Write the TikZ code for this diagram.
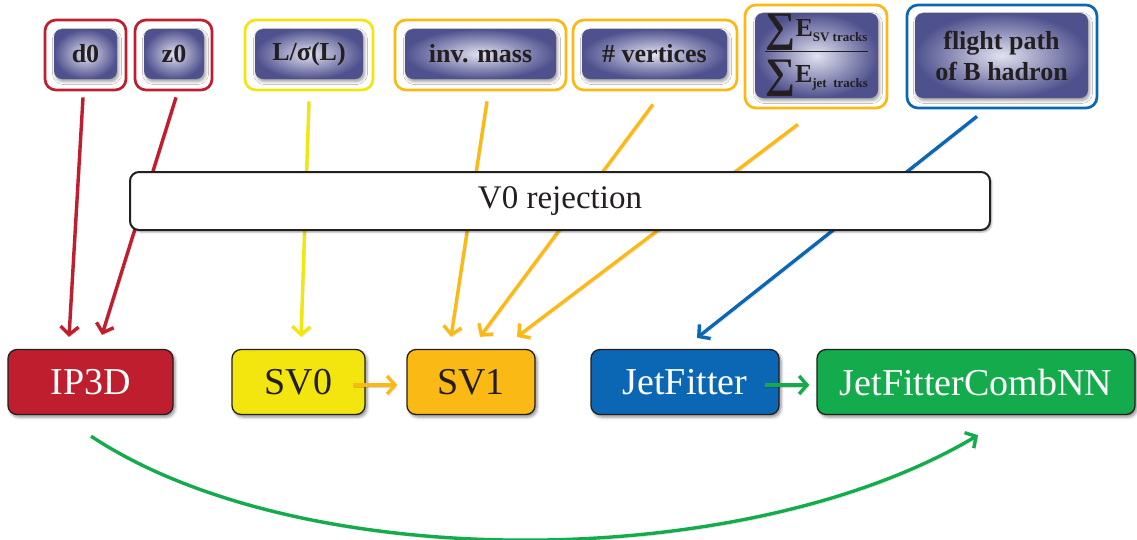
\documentclass[tikz,border=0pt]{standalone}
\usepackage{fontspec}
\setmainfont{Liberation Serif}
\usetikzlibrary{arrows.meta,calc,shadows.blur}

\definecolor{cred}{HTML}{BE1E2D}
\definecolor{cyellow}{HTML}{F2E60E}
\definecolor{corange}{HTML}{FBB916}
\definecolor{cblue}{HTML}{0B67B3}
\definecolor{cgreen}{HTML}{13AB4B}
\definecolor{ink}{HTML}{231F20}
\definecolor{varin}{HTML}{E2E2F0}
\definecolor{varout}{HTML}{4F518E}

\newcommand\sumE[1]{\raisebox{-5pt}{\fontsize{42}{42}\selectfont ∑}E\raisebox{-5pt}{\fontsize{13}{13}\selectfont #1}}

\tikzset{
  frame/.style={draw=#1, line width=2.7pt, rounded corners=11pt, fill=white, inner sep=0pt},
  var/.style={rounded corners=8pt, inner sep=0pt, inner color=varin, outer color=varout,
    blur shadow={shadow xshift=1.5pt, shadow yshift=-2.5pt, shadow blur radius=3pt, shadow opacity=40},
    font=\fontsize{26}{31}\selectfont\bfseries, text=ink, align=center},
  algo/.style={rounded corners=9pt, draw=ink, line width=1.3pt, fill=#1, inner sep=0pt,
    minimum height=65pt, font=\fontsize{38}{40}\selectfont,
    blur shadow={shadow xshift=2pt, shadow yshift=-2.5pt, shadow blur radius=3pt, shadow opacity=45}},
  feed/.style={draw=#1, line width=3.4pt, -{Straight Barb[length=8pt,width=18pt]},
    preaction={draw=black, opacity=0.15, transform canvas={shift={(1.5pt,-2pt)}}}},
}

\begin{document}
\begin{tikzpicture}[x=1pt,y=-1pt]
\useasboundingbox (0,0) rectangle (1137,539);

% input variables: outlined groups with shaded labels
\node[frame=cred,    minimum width=81pt,  minimum height=70pt]  (d0o)  at (85.5,55)  {};
\node[frame=cred,    minimum width=77pt,  minimum height=70pt]  (z0o)  at (173.5,55) {};
\node[frame=cyellow, minimum width=128pt, minimum height=70pt]  (lso)  at (309,55)   {};
\node[frame=corange, minimum width=171pt, minimum height=70pt]  (imo)  at (480.5,55) {};
\node[frame=corange, minimum width=164pt, minimum height=70pt]  (nvo)  at (655,55)   {};
\node[frame=corange, minimum width=142pt, minimum height=103pt] (esio) at (816,56.5) {};
\node[frame=cblue,   minimum width=190pt, minimum height=103pt] (flo)  at (1002,56.5){};

\node[var, minimum width=63pt,  minimum height=50pt] (d0) at (85.5,54)  {d0};
\node[var, minimum width=60pt,  minimum height=50pt] (z0) at (174,54)   {z0};
\node[var, minimum width=108pt, minimum height=50pt] (ls) at (309,54)   {L/σ(L)};
\node[var, minimum width=151pt, minimum height=50pt] (im) at (480.5,54) {inv. mass};
\node[var, minimum width=145pt, minimum height=50pt] (nv) at (654.5,54) {\# vertices};
\node[var, minimum width=123pt, minimum height=85pt] (esum) at (816.5,55.5)
  {\setlength\arrayrulewidth{1pt}\renewcommand\arraystretch{0.95}%
   \begin{tabular}{@{}c@{}}\sumE{SV tracks}\\[4pt]\hline\rule{0pt}{31pt}\sumE{jet\ \ tracks}\end{tabular}};
\node[var, minimum width=173pt, minimum height=85pt] (fl) at (1001.5,55.5) {flight path\\of B hadron};

% taggers
\node[algo=cred,    minimum width=165pt, text=white] (ip3d)   at (90.5,382)  {IP3D};
\node[algo=cyellow, minimum width=133pt, text=ink]   (sv0)    at (298.5,382) {SV0};
\node[algo=corange, minimum width=128pt, text=ink]   (sv1)    at (471,382)   {SV1};
\node[algo=cblue,   minimum width=188pt, text=white] (jf)     at (685,382)   {JetFitter};
\node[algo=cgreen,  minimum width=318pt, text=white] (combnn) at (976,382)   {JetFitterCombNN};

% variables feeding the taggers
\draw[feed=cred]    ($(d0o.south)+(-2.5,6)$)  -- ($(ip3d.north)+(-21.5,-12)$);
\draw[feed=cred]    ($(z0o.south)+(2.5,6)$)   -- ($(ip3d.north)+(11.5,-14)$);
\draw[feed=cyellow] ($(lso.south)+(0,10)$)    -- ($(sv0.north)+(2.5,-12)$);
\draw[feed=corange] ($(imo.south)+(6.5,10)$)  -- ($(sv1.north)+(-20,-12)$);
\draw[feed=corange] ($(nvo.south)+(-2,13)$)   -- ($(sv1.north)+(9,-12)$);
\draw[feed=corange] ($(esio.south)+(-18,15)$) -- ($(sv1.north)+(46,-12)$);
\draw[feed=cblue]   ($(flo.south)+(-25,7)$)   -- ($(jf.north)+(12,-11)$);

% V0 rejection stage, drawn over the feeding lines
\node[rounded corners=9pt, draw=ink, line width=2pt, fill=white, minimum width=860pt,
  minimum height=58pt, font=\fontsize{33}{35}\selectfont, text=ink,
  blur shadow={shadow xshift=1.5pt, shadow yshift=-2pt, shadow blur radius=2pt, shadow opacity=35}]
  (v0) at (560,201) {V0 rejection};

% links between taggers
\draw[feed=corange] ($(sv0.east)+(-13,3)$) -- ($(sv1.west)+(-9,3)$);
\draw[feed=cgreen]  ($(jf.east)+(-15,3)$)  -- ($(combnn.west)+(-7,3)$);
\draw[feed=cgreen]  ($(ip3d.south)+(0.5,21)$)
  .. controls ($(ip3d.south)+(210,160)$) and ($(combnn.south)+(-232,159)$)
  .. ($(combnn.south)+(2,20)$);
\end{tikzpicture}
\end{document}
